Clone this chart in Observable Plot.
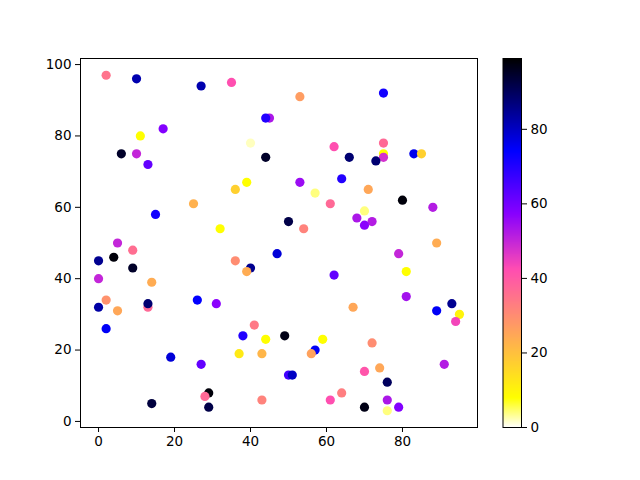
<!DOCTYPE html>
<html>
<head>
<meta charset="utf-8">
<script src="https://cdn.jsdelivr.net/npm/d3@7"></script>
<script src="https://cdn.jsdelivr.net/npm/@observablehq/plot@0.6"></script>
<style>
  body { margin: 0; background: #fff; }
  #chart { position: relative; width: 640px; height: 480px; }
  #chart svg { position: absolute; top: 0; font-family: "DejaVu Sans", sans-serif; }
</style>
</head>
<body>
<div id="chart"></div>
<script>
// scatter points: x, y and colour value
const xs = [2, 10, 27, 17, 11, 6, 10, 13, 25, 15, 32, 5,
  35, 53, 45, 44, 40, 44, 62, 66, 39, 36, 53, 64, 57, 61, 50, 54,
  75, 75, 75, 75, 73, 83, 85, 71, 80, 88, 70, 68, 72, 70, 89,
  9, 0, 4, 9, 0, 14, 2, 0, 5, 13, 13, 2, 26, 31, 19, 27, 29, 28, 29, 14,
  36, 40, 39, 47, 62, 67, 41, 38, 44, 49, 59, 37, 43, 57, 56, 50, 51, 43, 61, 64,
  79, 81, 81, 89, 93, 95, 94, 72, 74, 70, 76, 91, 76, 79, 70, 76];
const ys = [97, 96, 94, 82, 80, 75, 75, 72, 61, 58, 54, 50,
  95, 91, 85, 85, 78, 74, 77, 74, 67, 65, 67, 68, 64, 61, 56, 54,
  92, 78, 75, 74, 73, 75, 75, 65, 62, 60, 59, 57, 56, 55, 50,
  48, 45, 46, 43, 40, 39, 34, 32, 31, 32, 33, 26, 34, 33, 18, 16, 8, 7, 4, 5,
  45, 43, 42, 47, 41, 32, 27, 24, 23, 24, 23, 19, 19, 20, 19, 13, 13, 6, 6, 8,
  47, 42, 35, 31, 33, 30, 28, 22, 15, 14, 11, 16, 6, 4, 4, 3];
const cs = [35, 82, 82, 58, 8, 95, 50, 62, 23, 72, 8, 50,
  42, 27, 53, 70, 2, 95, 42, 88, 8, 17, 55, 70, 4, 37, 92, 32,
  72, 37, 8, 48, 88, 76, 17, 25, 98, 52, 4, 53, 52, 57, 24,
  36, 85, 98, 95, 50, 24, 29, 83, 25, 37, 88, 75, 74, 57, 78, 62, 98, 37, 92, 93,
  30, 85, 24, 78, 62, 25, 34, 70, 8, 97, 8, 12, 22, 75, 26, 66, 80, 32, 42, 33,
  50, 8, 54, 75, 85, 10, 44, 30, 25, 41, 90, 52, 53, 58, 97, 4];

const xTicks = [0, 20, 40, 60, 80];
const yTicks = [0, 20, 40, 60, 80, 100];
const cTicks = [0, 20, 40, 60, 80];
const cDomain = [0, 99];

// matplotlib gnuplot2, reversed
function gnuplot2_r(t) {
  const x = 1 - t;
  const cl = v => Math.max(0, Math.min(1, v));
  const r = cl(x / 0.32 - 0.78125);
  const g = cl(2 * x - 0.84);
  const b = cl(x < 0.25 ? 4 * x : x < 0.92 ? -2 * x + 1.84 : x / 0.08 - 11.5);
  return d3.rgb(r * 255, g * 255, b * 255).formatHex();
}

const pts = xs.map((x, i) => ({x, y: ys[i], c: cs[i]}));
const colorScale = {type: "linear", domain: cDomain, interpolate: gnuplot2_r};

const main = Plot.plot({
  width: 640,
  height: 480,
  marginLeft: 80,
  marginRight: 163,
  marginTop: 58,
  marginBottom: 53,
  style: {fontSize: "13.5px", color: "#000"},
  x: {domain: [-4.75, 99.75], ticks: xTicks, tickSize: 5, tickPadding: 4, label: null},
  y: {domain: [-1.7, 101.7], ticks: yTicks, tickSize: 5, tickPadding: 4, label: null},
  color: colorScale,
  marks: [
    Plot.dot(pts, {x: "x", y: "y", fill: "c", r: 4.6}),
    Plot.frame({stroke: "#000", strokeWidth: 1}),
    Plot.axisX({ticks: xTicks, tickSize: 5, tickPadding: 4, label: null}),
    Plot.axisY({ticks: yTicks, tickSize: 5, tickPadding: 4, label: null})
  ]
});

const bar = Plot.plot({
  width: 70,
  height: 480,
  marginLeft: 0.5,
  marginRight: 51,
  marginTop: 58,
  marginBottom: 53,
  style: {fontSize: "13.5px", color: "#000", overflow: "visible"},
  x: {domain: [0, 1], axis: null},
  y: {domain: cDomain, label: null},
  color: colorScale,
  marks: [
    Plot.raster({fill: (x, y) => y, x1: 0, x2: 1, y1: cDomain[0], y2: cDomain[1], width: 1, height: 400}),
    Plot.frame({stroke: "#000", strokeWidth: 1}),
    Plot.axisY({anchor: "right", ticks: cTicks, tickSize: 5, tickPadding: 4, label: null})
  ]
});
bar.style.left = "502px";

const chart = document.getElementById("chart");
chart.append(main, bar);
</script>
</body>
</html>
